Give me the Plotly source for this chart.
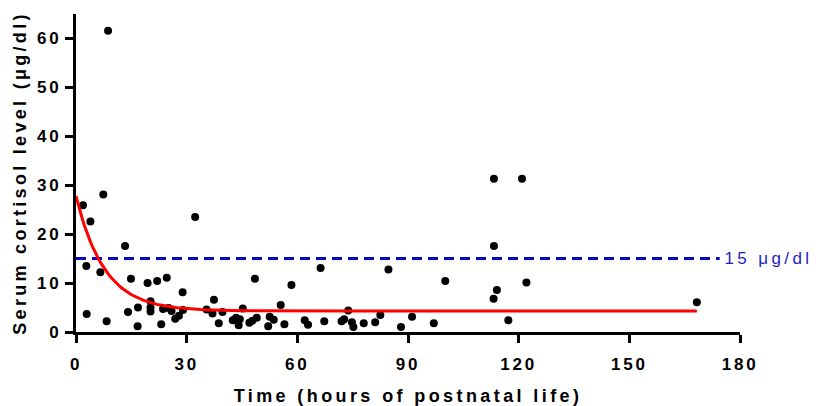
import numpy as np
import plotly.graph_objects as go

# Observed data: time (hours of postnatal life) and serum cortisol (µg/dl)
time_h = [1.9, 2.8, 3.9, 2.9, 6.6, 7.4, 8.3, 8.7, 13.3, 14.1, 14.9, 16.7, 16.8,
          19.4, 20.2, 20.2, 20.2, 22.0, 23.1, 23.6, 24.6, 25.1, 25.9, 26.9, 27.9,
          28.9, 29.0, 32.3, 35.4, 37.0, 37.4, 38.7, 39.7, 42.5, 43.4, 44.1, 44.4,
          45.2, 47.0, 47.8, 49.0, 48.5, 52.1, 52.5, 53.6, 55.5, 56.5, 58.4, 62.0,
          62.9, 66.3, 67.3, 72.0, 72.7, 73.8, 74.8, 75.2, 78.0, 81.1, 82.5, 84.7,
          88.1, 91.1, 97.0, 100.1, 113.2, 113.3, 113.3, 114.1, 117.2, 120.9, 122.1,
          168.3]
cortisol = [25.9, 13.5, 22.6, 3.7, 12.2, 28.1, 2.2, 61.6, 17.6, 4.1, 10.9, 1.2, 5.0,
            10.0, 6.3, 5.0, 4.2, 10.4, 1.6, 4.7, 11.1, 4.9, 4.3, 2.7, 3.3,
            8.1, 4.5, 23.5, 4.6, 3.8, 6.6, 1.8, 4.1, 2.4, 2.9, 1.4, 2.6,
            4.8, 1.9, 2.3, 2.9, 10.9, 1.2, 3.1, 2.5, 5.5, 1.6, 9.6, 2.4,
            1.5, 13.1, 2.2, 2.2, 2.6, 4.4, 2.0, 1.0, 1.8, 2.0, 3.5, 12.8,
            1.0, 3.1, 1.8, 10.4, 6.8, 17.6, 31.3, 8.6, 2.4, 31.3, 10.1,
            6.1]

# One-phase exponential decay fit parameters
FIT_Y0 = 27.8
FIT_PLATEAU = 4.3
FIT_K = 0.13
FIT_T_END = 168.3

# Reference threshold
THRESHOLD = 15
THRESHOLD_END = 174.5
THRESHOLD_LABEL = "15 \u03bcg/dl"

x_ticks = [0, 30, 60, 90, 120, 150, 180]
y_ticks = [0, 10, 20, 30, 40, 50, 60]

t_fit = np.linspace(0, FIT_T_END, 300)
y_fit = FIT_PLATEAU + (FIT_Y0 - FIT_PLATEAU) * np.exp(-FIT_K * t_fit)

FONT = "Liberation Sans, Arial, sans-serif"
BLUE_LINE = "#0808c0"
BLUE_TEXT = "#1e1ec8"

fig = go.Figure()
fig.add_trace(go.Scatter(
    x=[0, THRESHOLD_END], y=[THRESHOLD, THRESHOLD], mode="lines",
    line=dict(color=BLUE_LINE, width=3, dash="10px,6px"),
    hoverinfo="skip", showlegend=False))
fig.add_trace(go.Scatter(
    x=time_h, y=cortisol, mode="markers",
    marker=dict(color="black", size=8),
    showlegend=False))
fig.add_trace(go.Scatter(
    x=t_fit, y=y_fit, mode="lines",
    line=dict(color="#ff0000", width=3),
    showlegend=False))

fig.add_annotation(
    x=174.6, y=THRESHOLD, xref="x", yref="y", text=THRESHOLD_LABEL,
    showarrow=False, xanchor="left", yanchor="middle", xshift=16,
    font=dict(family=FONT, size=17, color=BLUE_TEXT))

fig.update_layout(
    width=819, height=406,
    margin=dict(l=76, r=79, t=14, b=74),
    plot_bgcolor="white", paper_bgcolor="white",
    font=dict(family=FONT, color="black"),
    xaxis=dict(
        range=[0, 180], tickvals=x_ticks, ticktext=[str(v) for v in x_ticks],
        showline=True, linecolor="black", linewidth=3,
        ticks="outside", ticklen=8, tickwidth=3, tickcolor="black",
        showgrid=False, zeroline=False, automargin=False,
        ticklabelstandoff=7,
        tickfont=dict(family=FONT, size=17, color="black", weight="bold"),
        title=dict(text="<b>Time (hours of postnatal life)</b>",
                   font=dict(family=FONT, size=18, color="black"), standoff=18),
    ),
    yaxis=dict(
        range=[0, 65], tickvals=y_ticks, ticktext=[str(v) for v in y_ticks],
        showline=True, linecolor="black", linewidth=3,
        ticks="outside", ticklen=8, tickwidth=3, tickcolor="black",
        showgrid=False, zeroline=False, automargin=False,
        tickfont=dict(family=FONT, size=17, color="black", weight="bold"),
        title=dict(text="<b>Serum cortisol level (\u03bcg/dl)</b>",
                   font=dict(family=FONT, size=18, color="black"), standoff=12),
    ),
)

post = """
document.body.style.margin = '0';
document.body.style.padding = '0';
var gd = document.getElementById('{plot_id}');
function sp(sel, v) {
  gd.querySelectorAll(sel).forEach(function(el) { el.style.letterSpacing = v; });
}
sp('.xtitle', '3.4px');
sp('.ytitle', '3.3px');
sp('.xtick text', '2.8px');
sp('.ytick text', '2.8px');
sp('.annotation-text', '3.4px');
"""

fig.write_html("out.html", post_script=post, config={"displayModeBar": False})
